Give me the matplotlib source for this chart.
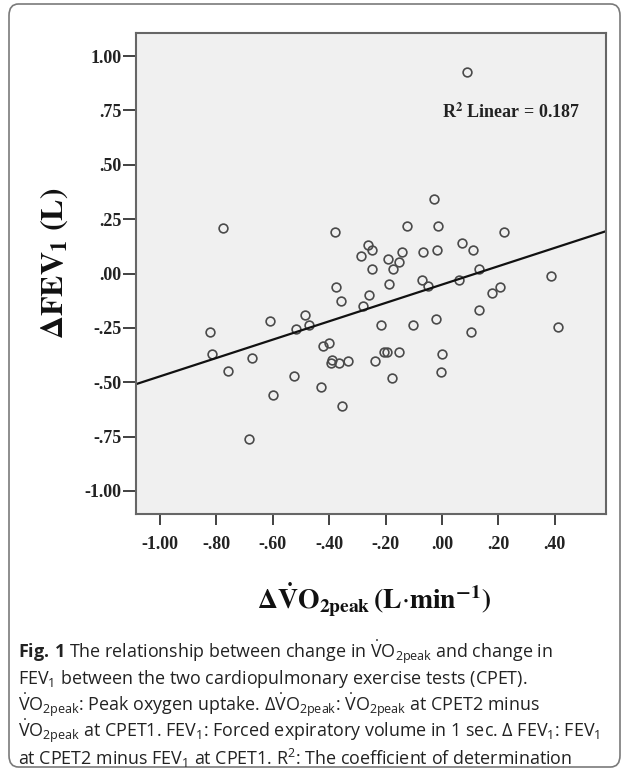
import numpy as np
import matplotlib
matplotlib.use("Agg")
import matplotlib.pyplot as plt
from matplotlib.patches import FancyBboxPatch

# ---------------- data ----------------
D_VO2 = [-0.777, -0.609, -0.027, -0.123, -0.013, -0.378, -0.262, -0.248, -0.287,
         -0.142, -0.068, -0.019, -0.190, -0.152, -0.173, -0.248, -0.072, -0.049,
         -0.189, -0.375, -0.260, -0.359, -0.281, -0.486, -0.470, -0.517, -0.217,
         -0.104, -0.021, 0.220, 0.073, 0.112, 0.130, 0.061, 0.388, 0.205, 0.177,
         0.132, 0.413, 0.103, 0.001, -0.004, -0.423, -0.400, -0.389, -0.393,
         -0.366, -0.333, -0.239, -0.205, -0.195, -0.151, -0.178, -0.525, -0.429,
         -0.354, -0.823, -0.817, -0.673, -0.760, -0.600, -0.683, 0.088]
D_FEV1 = [0.208, -0.220, 0.341, 0.220, 0.220, 0.189, 0.130, 0.110, 0.080,
          0.100, 0.100, 0.110, 0.068, 0.051, 0.021, 0.021, -0.028, -0.057,
          -0.050, -0.061, -0.100, -0.128, -0.149, -0.189, -0.238, -0.254, -0.238,
          -0.238, -0.208, 0.189, 0.140, 0.110, 0.021, -0.030, -0.010, -0.061, -0.090,
          -0.169, -0.248, -0.270, -0.372, -0.451, -0.332, -0.321, -0.398, -0.410,
          -0.411, -0.401, -0.401, -0.359, -0.359, -0.359, -0.479, -0.470, -0.520,
          -0.609, -0.270, -0.370, -0.390, -0.450, -0.560, -0.760, 0.928]

FIT_SLOPE = 0.422
FIT_INTERCEPT = -0.051
R2_TEXT = r"R$^{\mathbf{2}}$ Linear = 0.187"

X_TICKS = [-1.0, -0.8, -0.6, -0.4, -0.2, 0.0, 0.2, 0.4]
X_TICK_LABELS = ["-1.00", "-.80", "-.60", "-.40", "-.20", ".00", ".20", ".40"]
Y_TICKS = [1.0, 0.75, 0.5, 0.25, 0.0, -0.25, -0.5, -0.75, -1.0]
Y_TICK_LABELS = ["1.00", ".75", ".50", ".25", ".00", "-.25", "-.50", "-.75", "-1.00"]
X_LIM = (-1.085, 0.582)
Y_LIM = (-1.106, 1.106)

X_LABEL = r"$\mathbf{\Delta\dot{V}O_{2peak}\,(L}{\cdot}\mathbf{min^{-1})}$"
Y_LABEL = r"$\mathbf{\Delta FEV_{1}\ (L)}$"

VO2 = r"$\dot{\mathrm{V}}\mathrm{O}_{2\mathrm{peak}}$"
FEV = r"FEV$_{1}$"
CAPTION = [
    r"$\mathbf{Fig.\,1}$ The relationship between change in " + VO2 + " and change in",
    FEV + " between the two cardiopulmonary exercise tests (CPET).",
    VO2 + ": Peak oxygen uptake. Δ" + VO2 + ": " + VO2 + " at CPET2 minus",
    VO2 + " at CPET1. " + FEV + ": Forced expiratory volume in 1 sec. Δ " + FEV + ": " + FEV,
    "at CPET2 minus " + FEV + r" at CPET1. R$^{2}$: The coefficient of determination",
]
# -----------------------------------------------------------

W, H = 629, 770
plt.rcParams['mathtext.fontset'] = 'custom'
plt.rcParams['mathtext.rm'] = 'Open Sans'
plt.rcParams['mathtext.it'] = 'Open Sans:italic'
plt.rcParams['mathtext.bf'] = 'Open Sans:bold'

SERIF = "Liberation Serif"


def fx(px):
    return px / W


def fy(py):
    return 1 - py / H


fig = plt.figure(figsize=(W / 100, H / 100), dpi=100)
fig.patch.set_facecolor("white")

# rounded frame around the whole figure
frame = FancyBboxPatch((fx(9), fy(767)), fx(620) - fx(9), fy(4) - fy(767),
                       boxstyle="round,pad=0,rounding_size=0.015",
                       transform=fig.transFigure, fill=False,
                       edgecolor="#7a7a7a", linewidth=1.2)
fig.patches.append(frame)

ax = fig.add_axes([fx(136), fy(514), fx(606) - fx(136), fy(33) - fy(514)])
ax.set_facecolor("#f0f0f0")

ax.plot(D_VO2, D_FEV1, linestyle="none", marker="o", markersize=6.3,
        markerfacecolor="none", markeredgecolor="#4a4a4a", markeredgewidth=1.2)

xs = np.array(X_LIM)
ax.plot(xs, FIT_SLOPE * xs + FIT_INTERCEPT, color="#111111", linewidth=1.6)

ax.text(0.0, 0.74, R2_TEXT, fontfamily=SERIF, fontweight="bold", fontsize=13,
        ha="left", va="center", color="#222222", math_fontfamily="stix")

ax.set_xlim(X_LIM)
ax.set_ylim(Y_LIM)
ax.set_xticks(X_TICKS)
ax.set_xticklabels(X_TICK_LABELS)
ax.set_yticks(Y_TICKS)
ax.set_yticklabels(Y_TICK_LABELS)

for lab in ax.get_xticklabels() + ax.get_yticklabels():
    lab.set_fontfamily(SERIF)
    lab.set_fontweight("bold")
    lab.set_fontsize(13)
    lab.set_color("#222222")

ax.tick_params(axis="y", length=9.5, width=1.3, pad=1, color="#333333")
ax.tick_params(axis="x", length=8, width=1.3, pad=8, color="#333333")

for sp in ax.spines.values():
    sp.set_color("#666666")
    sp.set_linewidth(1.5)

fig.text(fx(374), fy(600), X_LABEL, fontsize=20, ha="center", va="center",
         color="#111111", math_fontfamily="stix")
fig.text(fx(55), fy(263), Y_LABEL, fontsize=23, ha="center", va="center",
         rotation=90, color="#111111", math_fontfamily="stix")

for i, line in enumerate(CAPTION):
    fig.text(fx(18), fy(652 + 26.5 * i), line, fontfamily="Open Sans", fontsize=12.9,
             ha="left", va="center", color="#222222")

fig.savefig("out.png", dpi=100)
